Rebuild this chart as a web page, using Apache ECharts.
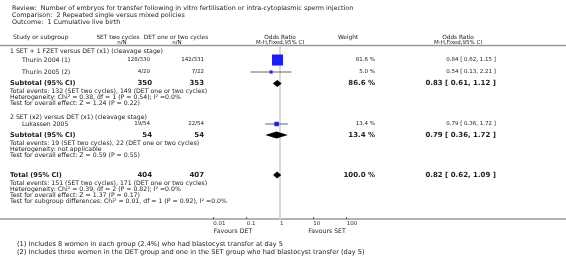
<!DOCTYPE html>
<html>
<head>
<meta charset="utf-8">
<script src="https://cdn.jsdelivr.net/npm/echarts@6/dist/echarts.min.js"></script>
<style>
    html, body { margin: 0; padding: 0; background: #fff; }
    #chart { width: 566px; height: 256px; }
</style>
</head>
<body>
<div id="chart"></div>
<script>
    const titleLines = [
        'Review:  Number of embryos for transfer following in vitro fertilisation or intra-cytoplasmic sperm injection',
        'Comparison:  2 Repeated single versus mixed policies',
        'Outcome:  1 Cumulative live birth'
    ];
    const groupNames = [
        '1 SET + 1 FZET versus DET (x1) (cleavage stage)',
        '2 SET (x2) versus DET (x1) (cleavage stage)'
    ];

    // studies
    const studyNames = ['Thurin 2004 (1)', 'Thurin 2005 (2)', 'Lukassen 2005'];
    const setCounts = ['128/330', '4/20', '19/54'];
    const detCounts = ['142/331', '7/22', '22/54'];
    const studyOR = [0.84, 0.54, 0.79];
    const studyLow = [0.62, 0.13, 0.36];
    const studyHigh = [1.15, 2.21, 1.72];
    const studyWeight = [81.6, 5.0, 13.4];

    // subtotals
    const subSET = [350, 54];
    const subDET = [353, 54];
    const subOR = [0.83, 0.79];
    const subLow = [0.61, 0.36];
    const subHigh = [1.12, 1.72];
    const subWeight = [86.6, 13.4];
    const subNotes = [
        [
            'Total events: 132 (SET two cycles), 149 (DET one or two cycles)',
            'Heterogeneity: Chi² = 0.38, df = 1 (P = 0.54); I² =0.0%',
            'Test for overall effect: Z = 1.24 (P = 0.22)'
        ],
        [
            'Total events: 19 (SET two cycles), 22 (DET one or two cycles)',
            'Heterogeneity: not applicable',
            'Test for overall effect: Z = 0.59 (P = 0.55)'
        ]
    ];

    // overall
    const totalSET = 404;
    const totalDET = 407;
    const totalOR = 0.82;
    const totalLow = 0.62;
    const totalHigh = 1.09;
    const totalWeight = 100.0;
    const totalNotes = [
        'Total events: 151 (SET two cycles), 171 (DET one or two cycles)',
        'Heterogeneity: Chi² = 0.39, df = 2 (P = 0.82); I² =0.0%',
        'Test for overall effect: Z = 1.37 (P = 0.17)',
        'Test for subgroup differences: Chi² = 0.01, df = 1 (P = 0.92), I² =0.0%'
    ];
    const footnotes = [
        '(1) Includes 8 women in each group (2.4%) who had blastocyst transfer at day 5',
        '(2) Includes three women in the DET group and one in the SET group who had blastocyst transfer (day 5)'
    ];
    const axisMin = 0.01;
    const axisMax = 100;
    const noEffect = 1;

    // layout: row centres in pixels
    const groupY = [51, 117];
    const studyY = [60, 72, 124];
    const subY = [83.5, 135];
    const totalY = 175;
    const noteStart = 8;
    const noteGap = 6;

    const FONT = 'DejaVu Sans';
    const colSET = 150, colDET = 204, colWeight = 375, colOR = 496;

    function txt(x, y, s, align, bold, size) {
        return {
            type: 'text', x: x, y: y, silent: true,
            style: {
                text: s, fill: '#222',
                fontFamily: FONT, fontSize: size || 6.2, fontWeight: bold ? 'bold' : 'normal',
                textAlign: align || 'left', textVerticalAlign: 'middle',
                align: align || 'left', verticalAlign: 'middle'
            }
        };
    }

    const texts = [];
    titleLines.forEach((t, i) => texts.push(txt(12, 8 + i * 7, t, 'left', false, 6.4)));

    // header
    texts.push(txt(13, 37, 'Study or subgroup', 'left', false, 6));
    texts.push(txt(118, 37, 'SET two cycles', 'center', false, 5.8));
    texts.push(txt(122, 43, 'n/N', 'center', false, 5.5));
    texts.push(txt(176, 37, 'DET one or two cycles', 'center', false, 5.8));
    texts.push(txt(177, 43, 'n/N', 'center', false, 5.5));
    texts.push(txt(280, 37, 'Odds Ratio', 'center', false, 5.8));
    texts.push(txt(280, 43, 'M-H,Fixed,95% CI', 'center', false, 5.5));
    texts.push(txt(348, 37, 'Weight', 'center', false, 5.8));
    texts.push(txt(458, 37, 'Odds Ratio', 'center', false, 5.8));
    texts.push(txt(458, 43, 'M-H,Fixed,95% CI', 'center', false, 5.5));

    groupNames.forEach((g, i) => texts.push(txt(10, groupY[i], g)));

    studyNames.forEach((s, i) => {
        const y = studyY[i];
        texts.push(txt(22, y, s));
        texts.push(txt(colSET, y, setCounts[i], 'right', false, 5.5));
        texts.push(txt(colDET, y, detCounts[i], 'right', false, 5.5));
        texts.push(txt(colWeight, y, studyWeight[i].toFixed(1) + ' %', 'right', false, 5.5));
        texts.push(txt(colOR, y, studyOR[i].toFixed(2) + ' [ ' + studyLow[i].toFixed(2) + ', ' + studyHigh[i].toFixed(2) + ' ]', 'right', false, 5.5));
    });

    function summaryRow(y, label, nSet, nDet, w, or, lo, hi, notes) {
        texts.push(txt(10, y, label, 'left', true, 6.6));
        texts.push(txt(colSET + 2, y, String(nSet), 'right', true, 7));
        texts.push(txt(colDET, y, String(nDet), 'right', true, 7));
        texts.push(txt(colWeight, y, w.toFixed(1) + ' %', 'right', true, 7));
        texts.push(txt(colOR, y, or.toFixed(2) + ' [ ' + lo.toFixed(2) + ', ' + hi.toFixed(2) + ' ]', 'right', true, 7));
        notes.forEach((n, j) => texts.push(txt(10, y + noteStart + j * noteGap, n)));
    }
    subOR.forEach((v, i) => summaryRow(subY[i], 'Subtotal (95% CI)', subSET[i], subDET[i], subWeight[i], v, subLow[i], subHigh[i], subNotes[i]));
    summaryRow(totalY, 'Total (95% CI)', totalSET, totalDET, totalWeight, totalOR, totalLow, totalHigh, totalNotes);

    texts.push(txt(233, 231, 'Favours DET', 'center'));
    texts.push(txt(327, 231, 'Favours SET', 'center'));
    footnotes.forEach((f, i) => texts.push(txt(17, 244 + i * 8, f, 'left', false, 6.6)));

    // table rules
    texts.push({ type: 'line', silent: true, shape: { x1: 0, y1: 45.5, x2: 566, y2: 45.5 }, style: { stroke: '#999', lineWidth: 1.5 } });
    texts.push({ type: 'line', silent: true, shape: { x1: 0, y1: 219, x2: 566, y2: 219 }, style: { stroke: '#999', lineWidth: 1.5 } });

    const studyData = studyOR.map((v, i) => [v, studyLow[i], studyHigh[i], studyY[i], studyWeight[i]]);
    const diamondData = subOR.map((v, i) => [v, subLow[i], subHigh[i], subY[i]])
        .concat([[totalOR, totalLow, totalHigh, totalY]]);

    const chart = echarts.init(document.getElementById('chart'));
    const option = {
        animation: false,
        grid: { left: 213.3, right: 219.3, top: 46, bottom: 37 },
        xAxis: {
            type: 'log',
            logBase: 10,
            min: axisMin,
            max: axisMax,
            axisLine: { show: false },
            axisTick: { show: true, inside: true, length: 2, lineStyle: { color: '#555' } },
            axisLabel: {
                show: true, fontSize: 5.5, fontFamily: FONT, color: '#333',
                align: 'left', margin: 2, showMinLabel: true, showMaxLabel: true,
                formatter: v => String(+(+v).toPrecision(3))
            },
            splitLine: { show: false }
        },
        yAxis: { type: 'value', min: 46, max: 219, inverse: true, show: false },
        graphic: { elements: texts },
        series: [
            {
                // line of no effect
                type: 'custom',
                data: [[noEffect, 46]],
                encode: { x: 0, y: 1 },
                renderItem: function (params, api) {
                    const cs = params.coordSys;
                    const x = api.coord([api.value(0), api.value(1)])[0];
                    return {
                        type: 'line',
                        shape: { x1: x, y1: cs.y, x2: x, y2: cs.y + cs.height },
                        style: { stroke: '#d9d9d9', lineWidth: 2 }
                    };
                },
                silent: true,
                z: 1
            },
            {
                type: 'custom',
                data: studyData,
                encode: { x: [0, 1, 2], y: 3 },
                renderItem: function (params, api) {
                    const y = api.value(3);
                    const p = api.coord([api.value(0), y]);
                    const lo = api.coord([api.value(1), y]);
                    const hi = api.coord([api.value(2), y]);
                    const size = Math.max(3, 11 * Math.sqrt(api.value(4) / 81.6));
                    const half = size / 2;
                    return {
                        type: 'group',
                        children: [
                            { type: 'line', shape: { x1: lo[0], y1: p[1], x2: hi[0], y2: p[1] }, style: { stroke: '#666', lineWidth: 1 } },
                            { type: 'rect', shape: { x: p[0] - half, y: p[1] - half, width: size, height: size }, style: { fill: '#1a1aff' } },
                            { type: 'line', shape: { x1: Math.max(lo[0], p[0] - half), y1: p[1], x2: Math.min(hi[0], p[0] + half), y2: p[1] }, style: { stroke: '#3a3aa0', lineWidth: 0.5 } },
                            { type: 'line', shape: { x1: p[0], y1: p[1] - Math.min(1.5, half), x2: p[0], y2: p[1] + Math.min(1.5, half) }, style: { stroke: '#3a3aa0', lineWidth: 0.5 } }
                        ]
                    };
                },
                z: 3
            },
            {
                type: 'custom',
                data: diamondData,
                encode: { x: [0, 1, 2], y: 3 },
                renderItem: function (params, api) {
                    const y = api.value(3);
                    const p = api.coord([api.value(0), y]);
                    const lo = api.coord([api.value(1), y]);
                    const hi = api.coord([api.value(2), y]);
                    return {
                        type: 'polygon',
                        shape: { points: [[lo[0], p[1]], [p[0], p[1] - 3.5], [hi[0], p[1]], [p[0], p[1] + 3.5]] },
                        style: { fill: '#000' }
                    };
                },
                z: 4
            }
        ]
    };
    chart.setOption(option);
</script>
</body>
</html>
